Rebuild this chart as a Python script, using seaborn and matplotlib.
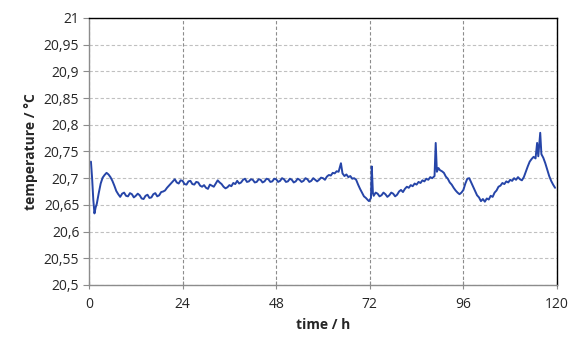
import pandas as pd
import matplotlib
matplotlib.use("Agg")
import matplotlib.pyplot as plt
import seaborn as sns
from matplotlib.ticker import FuncFormatter, MultipleLocator

# time in hours and temperature in degC
hours = [0.5, 0.8, 1.1, 1.4, 1.7, 2, 2.5, 3, 3.5, 4, 4.5, 5, 5.5, 6, 6.5, 7, 7.5,
         8, 8.5, 9, 9.5, 10, 10.5, 11, 11.5, 12, 12.5, 13, 13.5, 14, 14.5, 15, 15.5,
         16, 16.5, 17, 17.5, 18, 18.5, 19, 19.5, 20, 20.5, 21, 21.5, 22, 22.5, 23, 23.5,
         24, 24.5, 25, 25.5, 26, 26.5, 27, 27.5, 28, 28.5, 29, 29.5, 30, 30.5, 31, 31.5,
         32, 32.5, 33, 33.5, 34, 34.5, 35, 35.5, 36, 36.5, 37, 37.5, 38, 38.5, 39, 39.5,
         40, 40.5, 41, 41.5, 42, 42.5, 43, 43.5, 44, 44.5, 45, 45.5, 46, 46.5, 47, 47.5,
         48, 48.5, 49, 49.5, 50, 50.5, 51, 51.5, 52, 52.5, 53, 53.5, 54, 54.5, 55, 55.5,
         56, 56.5, 57, 57.5, 58, 58.5, 59, 59.5, 60, 60.5, 61, 61.5, 62, 62.5, 63, 63.5,
         64, 64.6, 65, 65.5, 66, 66.5, 67, 67.5, 68, 68.5, 69, 69.5, 70, 70.5, 71, 71.5,
         71.8, 72.3, 72.5, 72.8,
         73, 73.5, 74, 74.5, 75, 75.5, 76, 76.5, 77, 77.5, 78, 78.5, 79, 79.5,
         80, 80.5, 81, 81.5, 82, 82.5, 83, 83.5, 84, 84.5, 85, 85.5, 86, 86.5, 87, 87.5,
         88, 88.6, 88.9, 89.2, 89.6, 90, 90.5, 91, 91.5, 92, 92.5, 93, 93.5, 94, 94.5,
         95, 95.5, 96, 96.5, 97, 97.5, 98, 98.5, 99, 99.5,
         100, 100.5, 101, 101.5, 102, 102.5, 103, 103.5, 104, 104.5, 105, 105.5,
         106, 106.5, 107, 107.5, 108, 108.5, 109, 109.5, 110, 110.5, 111, 111.5,
         112, 112.5, 113, 113.5, 114, 114.5, 114.9, 115.2, 115.7, 116, 116.5,
         117, 117.5, 118, 118.5, 119, 119.5]
temps = [20.731, 20.700, 20.660, 20.634, 20.645, 20.652, 20.672, 20.690, 20.701, 20.706,
         20.710, 20.707, 20.702, 20.695, 20.686, 20.676, 20.670,
         20.665, 20.671, 20.673, 20.667, 20.666, 20.672, 20.670, 20.664, 20.667, 20.671,
         20.668, 20.662, 20.661, 20.667, 20.669, 20.663,
         20.664, 20.670, 20.672, 20.666, 20.668, 20.674, 20.675, 20.677, 20.682, 20.686,
         20.690, 20.694, 20.698, 20.692, 20.690, 20.696,
         20.695, 20.689, 20.688, 20.694, 20.695, 20.689, 20.688, 20.693, 20.692, 20.686,
         20.684, 20.687, 20.682, 20.680, 20.688, 20.686,
         20.684, 20.690, 20.696, 20.692, 20.689, 20.684, 20.681, 20.683, 20.687, 20.685,
         20.691, 20.689, 20.695, 20.690, 20.692, 20.697,
         20.699, 20.693, 20.694, 20.698, 20.697, 20.692, 20.693, 20.698, 20.697, 20.692,
         20.694, 20.699, 20.698, 20.693, 20.694, 20.699,
         20.698, 20.693, 20.695, 20.700, 20.698, 20.693, 20.694, 20.699, 20.697, 20.692,
         20.694, 20.699, 20.697, 20.693, 20.695, 20.700,
         20.698, 20.693, 20.695, 20.700, 20.697, 20.694, 20.697, 20.701, 20.700, 20.697,
         20.703, 20.706, 20.705, 20.710, 20.709, 20.713,
         20.712, 20.728, 20.709, 20.704, 20.707, 20.702, 20.704, 20.699, 20.700, 20.697,
         20.688, 20.680, 20.673, 20.666, 20.663, 20.659,
         20.657, 20.663, 20.722, 20.672,
         20.667, 20.673, 20.671, 20.666, 20.668, 20.673, 20.670, 20.665, 20.668, 20.673,
         20.671, 20.666, 20.669, 20.675,
         20.678, 20.674, 20.680, 20.684, 20.682, 20.687, 20.685, 20.690, 20.688, 20.693,
         20.691, 20.696, 20.694, 20.699, 20.697, 20.702,
         20.700, 20.704, 20.766, 20.712, 20.719, 20.715, 20.713, 20.710, 20.703, 20.699,
         20.692, 20.688, 20.682, 20.677, 20.673,
         20.670, 20.673, 20.678, 20.690, 20.699, 20.700, 20.692, 20.684, 20.676, 20.668,
         20.664, 20.657, 20.661, 20.656, 20.662, 20.660, 20.667, 20.665, 20.673, 20.677,
         20.684, 20.686,
         20.691, 20.689, 20.694, 20.692, 20.697, 20.695, 20.700, 20.697, 20.702, 20.698,
         20.696, 20.702,
         20.712, 20.722, 20.731, 20.736, 20.740, 20.737, 20.766, 20.741, 20.785, 20.745,
         20.738,
         20.728, 20.716, 20.704, 20.695, 20.688, 20.682]

df = pd.DataFrame({"time": hours, "temperature": temps})

sns.set_style("white")
plt.rcParams["font.family"] = ["Open Sans", "DejaVu Sans"]

fig = plt.figure(figsize=(5.79, 3.40), dpi=100)
ax = fig.add_axes([0.1537, 0.1618, 0.8083, 0.7853])

sns.lineplot(data=df, x="time", y="temperature", ax=ax, color="#2645A8",
             linewidth=1.4, estimator=None, sort=False)

ax.set_xlim(0, 120)
ax.set_ylim(20.5, 21)
ax.xaxis.set_major_locator(MultipleLocator(24))
ax.yaxis.set_major_locator(MultipleLocator(0.05))
ax.yaxis.set_major_formatter(FuncFormatter(
    lambda v, p: f"{v:.2f}".rstrip("0").rstrip(".").replace(".", ",")))

ax.grid(axis="y", linestyle=(0, (3, 2)), color="#C0C0C0", linewidth=0.8)
ax.grid(axis="x", linestyle=(0, (3, 2)), color="#8C8C8C", linewidth=0.8)

for s in ["left", "bottom"]:
    ax.spines[s].set_color("#8C8C8C")
for s in ["top", "right"]:
    ax.spines[s].set_color("black")
for s in ax.spines.values():
    s.set_linewidth(1.0)

ax.tick_params(axis="y", direction="out", length=4, color="#8C8C8C",
               labelsize=10, labelcolor="#262626", pad=3)
ax.tick_params(axis="x", direction="inout", length=6, color="#8C8C8C",
               labelsize=10, labelcolor="#262626", pad=6)
ax.tick_params(left=True, bottom=True)

ax.set_xlabel("time / h", fontsize=10, fontweight="bold", labelpad=4)
ax.set_ylabel("temperature / °C", fontsize=10, fontweight="bold", labelpad=4)

fig.savefig("out.png", dpi=100)
